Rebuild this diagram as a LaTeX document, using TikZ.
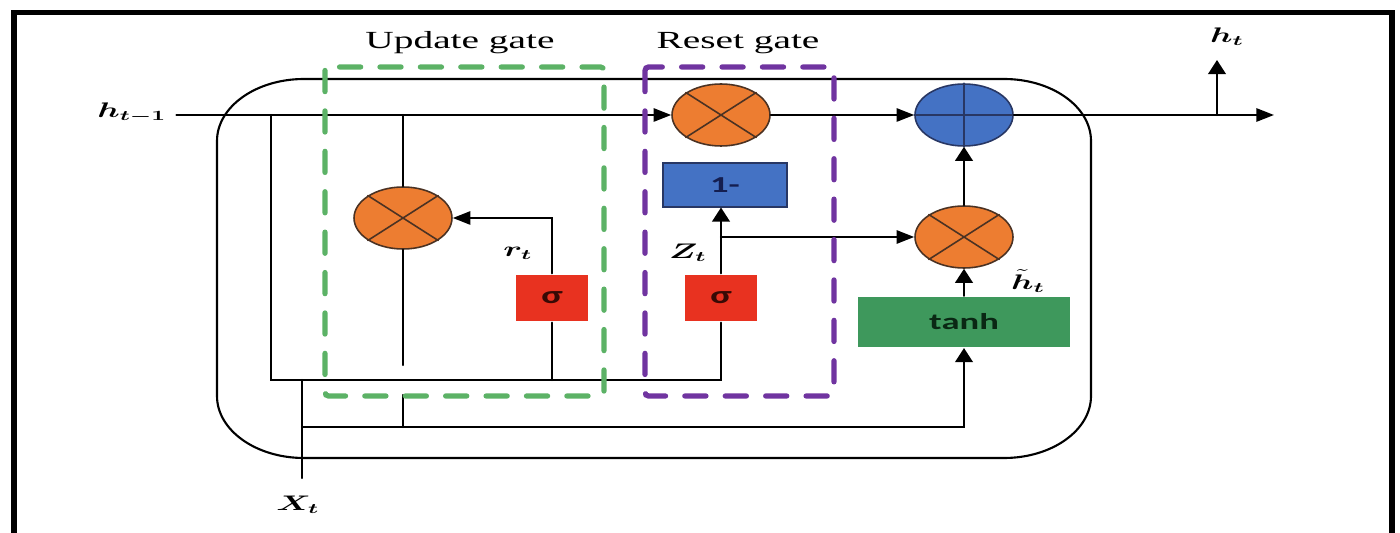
\documentclass[tikz,border=0pt]{standalone}
\usepackage{fontspec}
\usepackage{amsmath}
\usepackage{graphicx}
\setmainfont{Liberation Serif}
\newfontfamily\calib{Carlito}
\usetikzlibrary{shapes.geometric,arrows.meta}
\definecolor{multor}{RGB}{237,125,49}
\definecolor{multedge}{RGB}{75,50,35}
\definecolor{addbl}{RGB}{68,114,196}
\definecolor{addedge}{RGB}{40,55,100}
\definecolor{onetxt}{RGB}{20,30,80}
\definecolor{sigred}{RGB}{232,50,32}
\definecolor{sigtxt}{RGB}{55,10,5}
\definecolor{tanhgr}{RGB}{62,152,92}
\definecolor{tanhtxt}{RGB}{10,40,20}
\definecolor{updgr}{RGB}{92,178,102}
\definecolor{rstpu}{RGB}{112,52,160}
\newcommand{\wtxt}[1]{\scalebox{1.6}[1]{#1}}
\tikzset{
  mult/.style={ellipse, draw=multedge, fill=multor, line width=0.9pt, minimum width=1.96cm, minimum height=1.24cm, inner sep=0pt},
  gbox/.style={rectangle, inner sep=0pt, font=\calib\bfseries\fontsize{13}{15}\selectfont},
  sigbox/.style={gbox, fill=sigred, text=sigtxt, minimum width=1.44cm, minimum height=0.94cm, font=\calib\bfseries\fontsize{14}{16}\selectfont},
  lbl/.style={inner sep=1pt, font=\fontsize{12}{14}\selectfont},
  gatelbl/.style={inner sep=1pt, font=\fontsize{14}{16}\selectfont},
  gatebox/.style={line width=3pt, rounded corners=2pt, dash pattern=on 12pt off 11pt},
  hto/.style={-{Triangle[length=10pt,width=7.5pt]}},
  vto/.style={-{Triangle[length=8pt,width=10pt]}},
}
\begin{document}
\begin{tikzpicture}[x=0.02cm, y=-0.02cm, line width=1.2pt, line cap=round]
  \useasboundingbox (0,0) rectangle (1400,533);
  \draw[line width=3.2pt, line cap=butt] (14,533) -- (14,12.5) -- (1392,12.5) -- (1392,533); % frame
  % cell
  \draw (217,141) arc[start angle=180, end angle=270, x radius=87, y radius=62] -- (1004,79)
    arc[start angle=270, end angle=360, x radius=87, y radius=62] -- (1091,396)
    arc[start angle=0, end angle=90, x radius=87, y radius=62] -- (304,458)
    arc[start angle=90, end angle=180, x radius=87, y radius=62] -- cycle;
  % operators
  \node[mult] (mr) at (721,115) {};
  \node[mult, fill=addbl, draw=addedge] (add) at (964,115) {};
  \node[mult] (mu) at (403,218) {};
  \node[mult] (mz) at (964,237) {};
  \draw[multedge, line width=0.9pt] (mr.north west) -- (mr.south east) (mr.north east) -- (mr.south west);
  \draw[multedge, line width=0.9pt] (mu.north west) -- (mu.south east) (mu.north east) -- (mu.south west);
  \draw[multedge, line width=0.9pt] (mz.north west) -- (mz.south east) (mz.north east) -- (mz.south west);
  \draw[addedge, line width=0.9pt] (add.north) -- (add.south) (add.west) -- (add.east);
  % boxes
  \node[gbox, fill=addbl, draw=addedge, line width=0.6pt, text=onetxt, minimum width=2.48cm, minimum height=0.88cm] (onem) at (725,185) {\wtxt{1-}};
  \node[sigbox] (sr) at (552,298) {\wtxt{σ}};
  \node[sigbox] (sz) at (721,298) {\wtxt{σ}};
  \node[gbox, fill=tanhgr, text=tanhtxt, minimum width=4.26cm, minimum height=1cm] (tanh) at (964,322) {\wtxt{tanh}};
  % labels
  \node[lbl, inner sep=5pt] (hin) at (132,113) {\wtxt{$\boldsymbol{h_{t-1}}$}};
  \node[lbl] (ht) at (1227,37) {\wtxt{$\boldsymbol{h_t}$}};
  \node[lbl] (rt) at (518,253) {\wtxt{$\boldsymbol{r_t}$}};
  \node[lbl] (zt) at (688,253) {\wtxt{$\boldsymbol{Z_t}$}};
  \node[lbl, inner sep=0pt] (htil) at (1028,281) {\wtxt{$\tilde{\boldsymbol{h}}_{\boldsymbol{t}}$}};
  \node[lbl] (xt) at (298,505) {\wtxt{$\boldsymbol{X_t}$}};
  \node[gatelbl] (upd) at (460,43) {\wtxt{Update gate}};
  \node[gatelbl] (rst) at (738,43) {\wtxt{Reset gate}};
  % points
  \coordinate (jl) at (271,115);
  \coordinate (jb) at (271,380);
  \coordinate (mue) at (403,365);
  \coordinate (xin) at (302,478);
  \coordinate (xr) at (302,427);
  \coordinate (stub) at (403,395);
  \coordinate (hout) at (1274,115);
  \coordinate (hup) at (1217,60);
  % connectors
  \draw[hto] (hin.east |- mr.west) -- (mr.west);
  \draw[hto] (mr) -- (add);
  \draw[hto] (add) -- (hout);
  \draw[vto] (hup |- add) -- (hup);
  \draw (jl) -- (jb) -| (sz.south);
  \draw (sr.south) -- (sr.south |- jb);
  \draw[hto] (sr.north) |- (mu.east);
  \draw (mu.north |- jl) -- (mu.north);
  \draw (mu.south) -- (mue);
  \draw[vto] (sz.north) -- (sz.north |- onem.south);
  \draw[hto] (sz.north |- mz.west) -- (mz.west);
  \draw[vto] (mz) -- (add);
  \draw[vto] (tanh) -- (mz);
  \draw (xin) -- (xin |- jb);
  \draw[vto] (xr) -| (tanh.south);
  \draw (stub |- xr) -- (stub);
  % gates
  \draw[gatebox, updgr] (325,67) rectangle (604,396);
  \draw[gatebox, rstpu] (645,67) rectangle (834,396);
\end{tikzpicture}
\end{document}
